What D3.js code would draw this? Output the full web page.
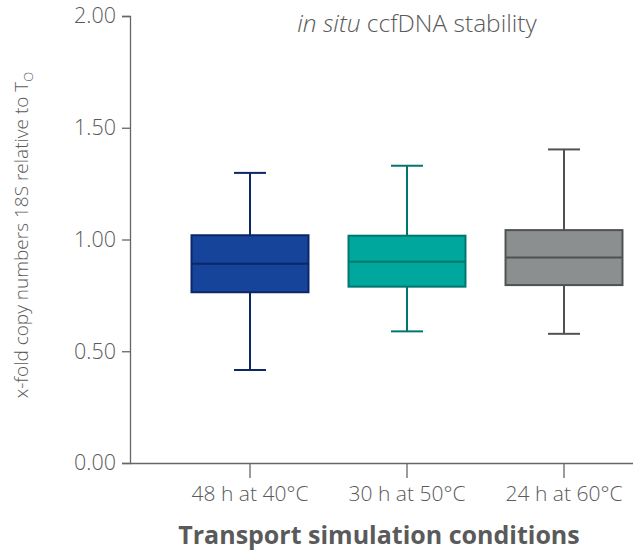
<!DOCTYPE html>
<html>
<head>
<meta charset="utf-8">
<script src="https://cdn.jsdelivr.net/npm/d3@7"></script>
<style>
   body { margin: 0; background: #fff; }
   text { font-family: "Open Sans", sans-serif; fill: #5a5a5a; }
</style>
</head>
<body>
<div id="chartDiv"></div>
<script>
//----------------------------------------------------------------------------------------------------
var conditions = ["48 h at 40°C", "30 h at 50°C", "24 h at 60°C"];
var whiskerLow  = [0.416, 0.589, 0.578];
var boxLow      = [0.764, 0.789, 0.796];
var medians     = [0.892, 0.901, 0.920];
var boxHigh     = [1.019, 1.017, 1.042];
var whiskerHigh = [1.298, 1.330, 1.403];
var yTicks = [0, 0.5, 1.0, 1.5, 2.0];
var fillColors   = ["#16449a", "#00a79d", "#8c8f8f"];
var strokeColors = ["#0c2766", "#00776e", "#505252"];
//----------------------------------------------------------------------------------------------------
var width = 633, height = 552;

var svg = d3.select("#chartDiv")
    .append("svg")
    .attr("width", width)
    .attr("height", height);

var yScale = d3.scaleLinear()
               .domain([0, 2])
               .range([463, 16]);

var xScale = d3.scaleBand()
               .domain(conditions)
               .range([171.5, 642.5])
               .paddingInner(0.255)
               .paddingOuter(0.1275);

var dataset = conditions.map(function(c, i){
   return {name: c, lo: whiskerLow[i], q1: boxLow[i], med: medians[i],
           q3: boxHigh[i], hi: whiskerHigh[i], fill: fillColors[i], stroke: strokeColors[i]};
   });

   // y axis
var yAxis = d3.axisLeft(yScale)
              .tickValues(yTicks)
              .tickFormat(d3.format(".2f"))
              .tickSize(8)
              .tickPadding(6);

var yG = svg.append("g")
   .attr("transform", "translate(130,0)")
   .call(yAxis);
yG.select(".domain").attr("stroke", "#666").attr("stroke-width", 1.3);
yG.selectAll(".tick line").attr("stroke", "#666").attr("stroke-width", 1.3);
yG.selectAll(".tick text")
   .style("font-size", "21.5px").style("font-weight", 300).attr("fill", "#555");

   // x axis
var xAxis = d3.axisBottom(xScale)
              .tickSize(15)
              .tickPadding(8)
              .tickSizeOuter(0);

var xG = svg.append("g")
   .attr("transform", "translate(0,463)")
   .call(xAxis);
xG.select(".domain").remove();
xG.selectAll(".tick line").attr("stroke", "#666").attr("stroke-width", 1.3);
xG.selectAll(".tick text")
   .style("font-size", "21px").style("font-weight", 300).attr("fill", "#555");

svg.append("line")
   .attr("x1", 130).attr("x2", width)
   .attr("y1", 463.5).attr("y2", 463.5)
   .attr("stroke", "#666").attr("stroke-width", 1.3);

   // boxes
var capHalf = 16;
var boxes = svg.selectAll("g.box")
   .data(dataset)
   .enter()
   .append("g")
   .attr("class", "box");

function cx(d){ return xScale(d.name) + xScale.bandwidth() / 2; }

boxes.append("line")
   .attr("x1", cx).attr("x2", cx)
   .attr("y1", function(d){ return yScale(d.hi); })
   .attr("y2", function(d){ return yScale(d.lo); })
   .attr("stroke", function(d){ return d.stroke; })
   .attr("stroke-width", 2);

boxes.selectAll("line.cap")
   .data(function(d){ return [{v: d.hi, p: d}, {v: d.lo, p: d}]; })
   .enter()
   .append("line")
   .attr("class", "cap")
   .attr("x1", function(e){ return cx(e.p) - capHalf; })
   .attr("x2", function(e){ return cx(e.p) + capHalf; })
   .attr("y1", function(e){ return yScale(e.v); })
   .attr("y2", function(e){ return yScale(e.v); })
   .attr("stroke", function(e){ return e.p.stroke; })
   .attr("stroke-width", 2);

boxes.append("rect")
   .attr("x", function(d){ return xScale(d.name); })
   .attr("width", xScale.bandwidth())
   .attr("y", function(d){ return yScale(d.q3); })
   .attr("height", function(d){ return yScale(d.q1) - yScale(d.q3); })
   .attr("fill", function(d){ return d.fill; })
   .attr("stroke", function(d){ return d.stroke; })
   .attr("stroke-width", 2);

boxes.append("line")
   .attr("x1", function(d){ return xScale(d.name); })
   .attr("x2", function(d){ return xScale(d.name) + xScale.bandwidth(); })
   .attr("y1", function(d){ return yScale(d.med); })
   .attr("y2", function(d){ return yScale(d.med); })
   .attr("stroke", function(d){ return d.stroke; })
   .attr("stroke-width", 2);

   // title
var title = svg.append("text")
   .attr("x", 417).attr("y", 32)
   .attr("text-anchor", "middle")
   .style("font-size", "24.5px").style("font-weight", 300);
title.append("tspan").style("font-style", "italic").text("in situ");
title.append("tspan").text(" ccfDNA stability");

   // axis titles
svg.append("text")
   .attr("x", 379).attr("y", 544)
   .attr("text-anchor", "middle")
   .style("font-size", "25px").style("font-weight", 700)
   .attr("fill", "#555")
   .text("Transport simulation conditions");

var yLabel = svg.append("text")
   .attr("transform", "translate(28,235) rotate(-90)")
   .attr("text-anchor", "middle")
   .style("font-size", "19px").style("font-weight", 300);
yLabel.append("tspan").text("x-fold copy numbers 18S relative to T");
yLabel.append("tspan").attr("dy", 5).style("font-size", "13px").text("O");
</script>
</body>
</html>
